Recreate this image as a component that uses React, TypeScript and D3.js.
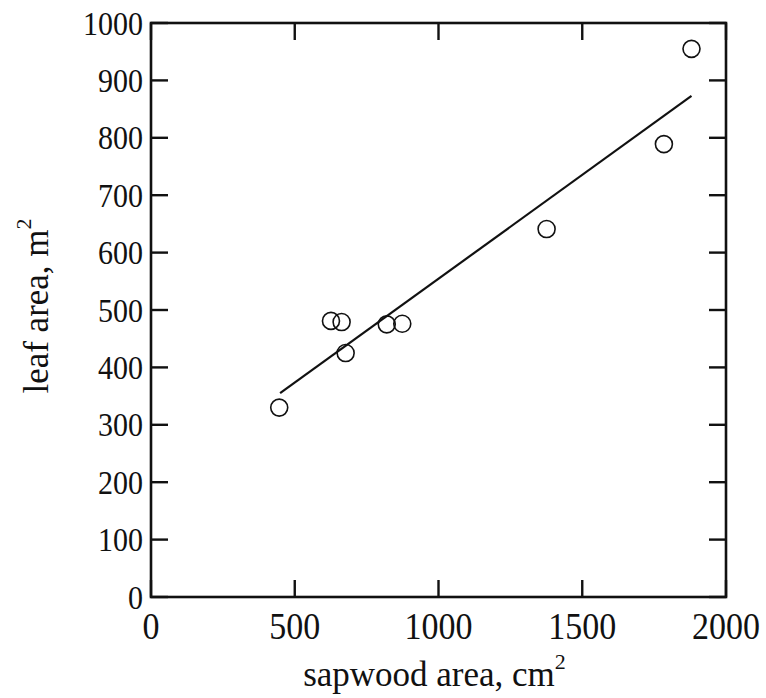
import React from "react";
import * as d3 from "d3";

const sapwood = [446, 626, 663, 677, 820, 874, 1376, 1784, 1880];
const leaf = [330, 481, 479, 425, 475, 476, 641, 789, 955];
const fitX = [449, 1880];
const fitY = [355, 873];
const xTicks = [0, 500, 1000, 1500, 2000];
const yTicks = [0, 100, 200, 300, 400, 500, 600, 700, 800, 900, 1000];

export default function App() {
  const W = 766, H = 698;
  const L = 151, R = 726, T = 23, B = 597;
  const x = d3.scaleLinear().domain([0, 2000]).range([L, R]);
  const y = d3.scaleLinear().domain([0, 1000]).range([B, T]);
  const tick = 17;
  const font = "'Liberation Serif', 'Times New Roman', serif";
  const ink = "#111";
  const line = d3.line<number>().x((d) => x(fitX[d])).y((d) => y(fitY[d]));
  return (
    <svg width={W} height={H} style={{ position: "absolute", left: 0, top: 0, background: "#fff" }} fontFamily={font}>
      <rect x={0} y={0} width={W} height={H} fill="#fff" />
      {/* frame */}
      <rect x={L} y={T} width={R - L} height={B - T} fill="none" stroke={ink} strokeWidth={2.6} />
      {/* x ticks bottom + top */}
      {xTicks.map((t) => (
        <g key={"xt" + t}>
          <line x1={x(t)} x2={x(t)} y1={B} y2={B - tick} stroke={ink} strokeWidth={2.4} />
          <line x1={x(t)} x2={x(t)} y1={T} y2={T + tick} stroke={ink} strokeWidth={2.4} />
          <g transform={`translate(${x(t)},${639}) scale(1,1.1)`}>
            <text x={0} y={0} textAnchor="middle" fontSize={34} fill={ink}>{t}</text>
          </g>
        </g>
      ))}
      {yTicks.map((t) => (
        <g key={"yt" + t}>
          <line x1={L} x2={L + tick} y1={y(t)} y2={y(t)} stroke={ink} strokeWidth={2.4} />
          <line x1={R} x2={R - tick} y1={y(t)} y2={y(t)} stroke={ink} strokeWidth={2.4} />
          <g transform={`translate(${143},${y(t) + 11.5}) scale(1,1.13)`}>
            <text x={0} y={0} textAnchor="end" fontSize={30} fill={ink}>{t}</text>
          </g>
        </g>
      ))}
      {/* fit line */}
      <path d={line([0, 1]) || ""} fill="none" stroke={ink} strokeWidth={2.2} />
      {/* points */}
      {sapwood.map((v, i) => (
        <circle key={"p" + i} cx={x(v)} cy={y(leaf[i])} r={8.5} fill="none" stroke={ink} strokeWidth={1.6} />
      ))}
      {/* axis titles */}
      <text x={(L + R) / 2 - 4} y={686} textAnchor="middle" fontSize={35} fill={ink}>
        sapwood area, cm<tspan fontSize={22} dy={-17}>2</tspan>
      </text>
      <text transform={`translate(48,${(T + B) / 2 - 4}) rotate(-90)`} textAnchor="middle" fontSize={35} fill={ink}>
        leaf area, m<tspan fontSize={22} dy={-17}>2</tspan>
      </text>
    </svg>
  );
}
